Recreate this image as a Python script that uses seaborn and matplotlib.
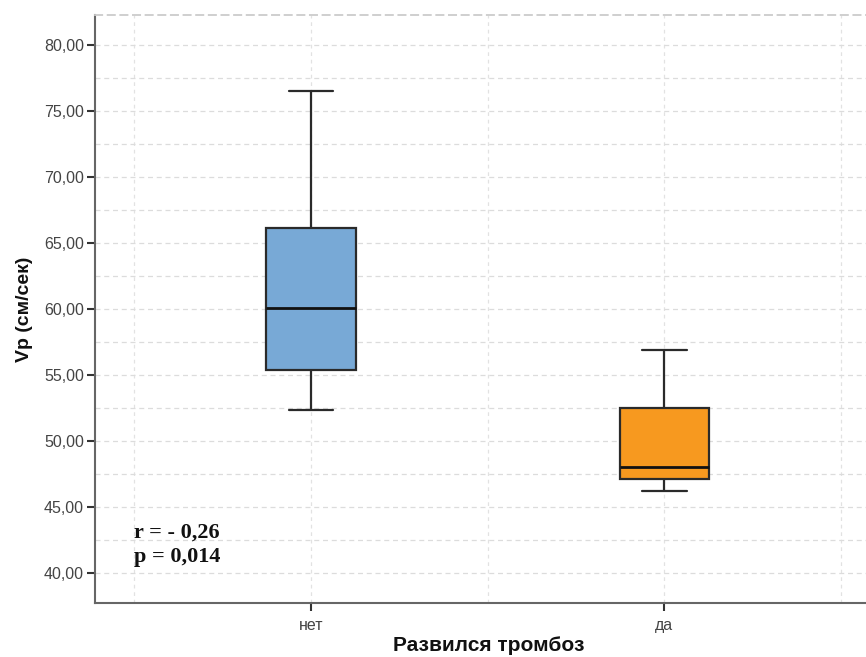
import numpy as np
import pandas as pd
import seaborn as sns
import matplotlib
matplotlib.use("Agg")
import matplotlib.pyplot as plt
from matplotlib.ticker import MultipleLocator, FuncFormatter

# Five-number summaries (min, Q1, median, Q3, max)
categories = ["нет", "да"]
net_values = [52.35, 55.4, 60.1, 66.15, 76.5]
da_values = [46.2, 47.15, 48.05, 52.5, 56.9]
colors = ["#78a9d6", "#f7991f"]
y_ticks = [40, 45, 50, 55, 60, 65, 70, 75, 80]

df = pd.DataFrame({
    "group": [categories[0]] * len(net_values) + [categories[1]] * len(da_values),
    "value": net_values + da_values,
})

sns.set_theme(style="white")
plt.rcParams["font.family"] = ["Liberation Sans", "DejaVu Sans"]

fig = plt.figure(figsize=(8.66, 6.57), dpi=100)
ax = fig.add_axes([95 / 866, 54 / 657, 1.0 - 95 / 866 + 0.02, (603 - 15) / 657])

sns.boxplot(data=df, x="group", y="value", hue="group", palette=colors,
            order=categories, whis=(0, 100), width=0.253, linewidth=1.6,
            linecolor="#2a2a2a", legend=False, ax=ax, saturation=1,
            medianprops=dict(color="#111111", linewidth=2.0),
            showfliers=False)

ax.set_xlim(-0.611, 1.62)
ax.set_ylim(37.73, 82.27)
ax.set_yticks(y_ticks)
ax.yaxis.set_minor_locator(MultipleLocator(2.5))
ax.yaxis.set_major_formatter(FuncFormatter(lambda v, p: f"{v:.2f}".replace(".", ",")))
ax.set_xticks([0.5], minor=True)
ax.set_xticks([0, 1])
ax.set_xticklabels(categories)

ax.set_axisbelow(True)
ax.grid(True, which="both", axis="y", color="#dcdcdc", linestyle=(0, (4, 3)), linewidth=0.9)
ax.grid(True, which="both", axis="x", color="#e2e2e2", linestyle=(0, (3, 3)), linewidth=0.9)
for xv in [-0.5, 1.5]:
    ax.axvline(xv, color="#e2e2e2", linestyle=(0, (3, 3)), linewidth=0.9, zorder=0)

for s in ["left", "bottom"]:
    ax.spines[s].set_color("#666666")
    ax.spines[s].set_linewidth(1.5)
ax.spines["top"].set_color("#cccccc")
ax.spines["top"].set_linestyle((0, (4, 3)))
ax.spines["top"].set_linewidth(1.3)
ax.spines["right"].set_visible(False)

ax.tick_params(axis="y", which="major", left=True, length=6, width=1.5, color="#333333",
               labelsize=11.5, labelcolor="#444444", pad=2)
ax.tick_params(axis="y", which="minor", left=False)
ax.tick_params(axis="x", which="major", bottom=True, length=6, width=1.5, color="#333333",
               labelsize=11.5, labelcolor="#444444", pad=5)
ax.tick_params(axis="x", which="minor", bottom=False)

ax.set_ylabel("Vp (см/сек)", fontsize=14, fontweight="bold", color="#111111", labelpad=8)
ax.set_xlabel("Развился тромбоз", fontsize=15, fontweight="bold", color="#111111", labelpad=2)

ax.text(-0.5, 43.8, "r = - 0,26\np = 0,014", fontsize=16, fontweight="bold",
        family=["Liberation Serif", "DejaVu Serif"], color="#111111",
        ha="left", va="top", linespacing=1.25)

fig.savefig("out.png", dpi=100)
